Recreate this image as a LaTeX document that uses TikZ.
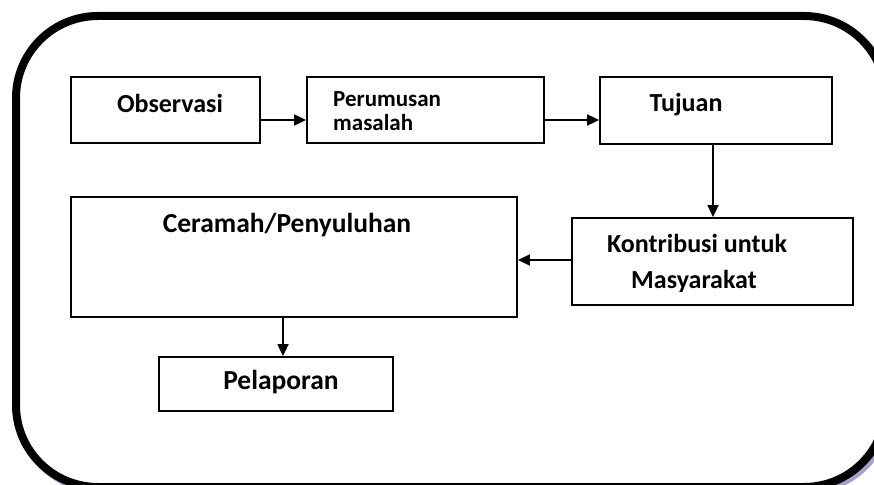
\documentclass[tikz,border=0pt]{standalone}
\usepackage{fontspec}
\setmainfont{Carlito}
\usetikzlibrary{arrows.meta}
\definecolor{shadowc}{RGB}{165,160,200}
\begin{document}
\begin{tikzpicture}[x=1pt,y=-1pt,
  box/.style={draw, line width=1.8pt, inner sep=0pt},
  big/.style={font=\bfseries\fontsize{26}{28}\selectfont, inner sep=0pt, anchor=base},
  bigger/.style={font=\bfseries\fontsize{27.5}{28}\selectfont, inner sep=0pt, anchor=base},
  small/.style={font=\bfseries\fontsize{23}{24}\selectfont, inner sep=0pt, align=left},
  arr/.style={line width=1.8pt, -{Triangle[length=12pt,width=11pt]}}]
\useasboundingbox (0,0) rectangle (874,484);
\begin{scope}
\clip (0,0) rectangle (874,484);
\draw[line width=8pt, color=shadowc, rounded corners=82pt] (19,19) rectangle (889,490);
\draw[line width=8pt, fill=white, rounded corners=82pt] (16,16) rectangle (886,487);
\end{scope}
% boxes
\node[box, minimum width=189pt, minimum height=66pt] (obs) at (165.5,110) {};
\node[box, minimum width=237pt, minimum height=66pt] (per) at (425.5,110) {};
\node[box, minimum width=232pt, minimum height=67pt] (tuj) at (716,110.5) {};
\node[box, minimum width=281pt, minimum height=87pt] (kon) at (712.5,261.5) {};
\node[box, minimum width=446pt, minimum height=120pt] (cer) at (294,257) {};
\node[box, minimum width=234pt, minimum height=54pt] (pel) at (276,384) {};
% labels
\node[big] (tobs) at (170,112) {Observasi};
\node[small, anchor=north west] (tper) at (333,91) {Perumusan\\masalah};
\node[big] (ttuj) at (686,111) {Tujuan};
\node[big] (tkon1) at (697,252) {Kontribusi untuk};
\node[big] (tkon2) at (694,288) {Masyarakat};
\node[bigger] (tcer) at (287,232) {Ceramah/Penyuluhan};
\node[bigger] (tpel) at (281,389) {Pelaporan};
% connectors
\coordinate (r1) at (0,120);
\coordinate (c1) at (713,0);
\coordinate (r2) at (0,260);
\coordinate (c2) at (283,0);
\draw[arr] (obs.east |- r1) -- (per.west |- r1);
\draw[arr] (per.east |- r1) -- (tuj.west |- r1);
\draw[arr] (tuj.south -| c1) -- (kon.north -| c1);
\draw[arr] (kon.west |- r2) -- (cer.east |- r2);
\draw[arr] (cer.south -| c2) -- (pel.north -| c2);
\end{tikzpicture}
\end{document}
